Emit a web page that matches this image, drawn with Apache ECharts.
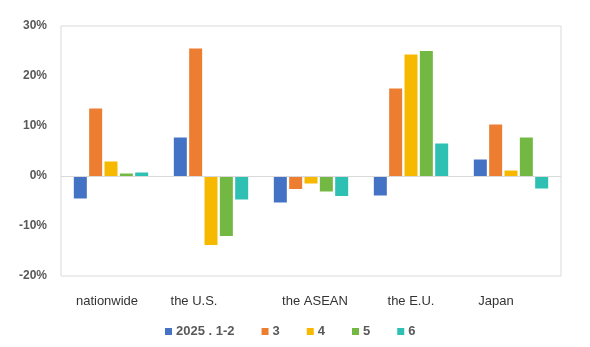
<!DOCTYPE html>
<html><head><meta charset="utf-8">
<script src="https://cdn.jsdelivr.net/npm/echarts@6/dist/echarts.min.js"></script>
<style>html,body{margin:0;padding:0;background:#fff}#c{width:590px;height:347px}</style>
</head><body><div id="c"></div>
<script>
const categories = ['nationwide', 'the U.S.', 'the ASEAN', 'the E.U.', 'Japan'];
const seriesNames = ['2025 . 1-2', '3', '4', '5', '6'];
const s1 = [-4.5, 7.7, -5.3, -3.9, 3.3];
const s3 = [13.5, 25.5, -2.6, 17.5, 10.3];
const s4 = [2.9, -13.8, -1.5, 24.3, 1.1];
const s5 = [0.5, -12.0, -3.1, 25.0, 7.7];
const s6 = [0.7, -4.7, -4.0, 6.5, -2.5];
const yTicks = [-20, -10, 0, 10, 20, 30];

const colors = ['#4472C4', '#ED7D31', '#F7B900', '#72B843', '#2EC0B2'];
const data = [s1, s3, s4, s5, s6];
const labelShift = [-4, -17, 4, 0, -15];
const rich = {};
labelShift.forEach((d, i) => {
  rich['c' + i] = {
    fontSize: 13, color: '#333', fontFamily: 'Liberation Sans, Arial, sans-serif',
    padding: d < 0 ? [0, -2 * d, 0, 0] : [0, 0, 0, 2 * d]
  };
});

const chart = echarts.init(document.getElementById('c'));
chart.setOption({
  animation: false,
  color: colors,
  grid: { left: 61, right: 29, top: 26, bottom: 71, show: true, borderColor: '#d9d9d9', borderWidth: 1 },
  legend: {
    left: 160, top: 320, itemWidth: 7, itemHeight: 7, itemGap: 27,
    icon: 'rect',
    textStyle: { fontSize: 13, fontWeight: 'bold', color: '#595959', fontFamily: 'Liberation Sans, Arial, sans-serif', padding: [0, 0, 0, -1] },
    data: seriesNames
  },
  xAxis: {
    type: 'category', data: categories,
    axisLine: { show: false }, axisTick: { show: false },
    axisLabel: {
      margin: 19, interval: 0,
      formatter: (v, i) => '{c' + i + '|' + v + '}',
      rich: rich
    }
  },
  yAxis: {
    type: 'value', min: -20, max: 30, interval: 10,
    axisLine: { show: false }, axisTick: { show: false },
    splitLine: { show: false },
    axisLabel: {
      margin: 14, fontSize: 12, fontWeight: 'bold', color: '#595959',
      fontFamily: 'Liberation Sans, Arial, sans-serif',
      formatter: v => yTicks.includes(v) ? v + '%' : ''
    }
  },
  series: data.map((d, i) => ({
    name: seriesNames[i], type: 'bar', data: d,
    barWidth: 13, barGap: '18%',
    itemStyle: { color: colors[i] },
    markLine: i === 0 ? {
      silent: true, symbol: 'none', label: { show: false },
      lineStyle: { color: '#d9d9d9', type: 'solid', width: 1 },
      data: [{ yAxis: 0 }]
    } : undefined
  }))
});
</script></body></html>
